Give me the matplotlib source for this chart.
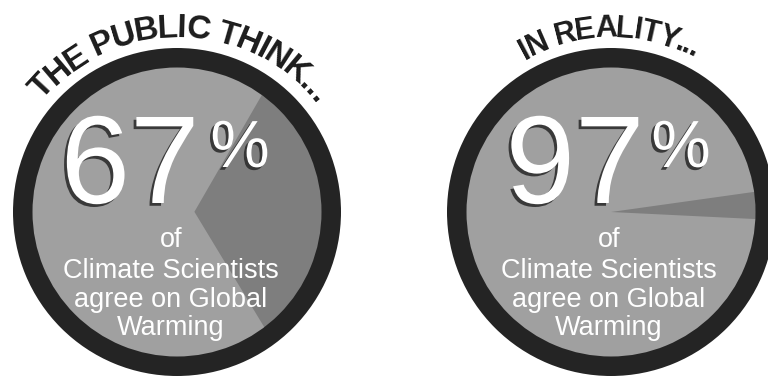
import matplotlib
matplotlib.use("Agg")
import matplotlib.pyplot as plt
import matplotlib.patheffects as pe
from matplotlib.patches import Wedge, Circle
from matplotlib.font_manager import FontProperties
import numpy as np

# data
titles = ["THE PUBLIC THINK...", "IN REALITY..."]
agree = [67, 97]
disagree = [33, 3]
caption = ["of", "Climate Scientists", "agree on Global", "Warming"]

W, H = 768, 377
fig = plt.figure(figsize=(W / 100, H / 100), dpi=100)
ax = fig.add_axes([0, 0, 1, 1])
renderer = fig.canvas.get_renderer()

LIGHT = "#a0a0a0"
DARK = "#7e7e7e"
RING = "#242424"

RADIUS = 145
centers = [(177, 165), (611, 165)]
start_angles = [60, 8]
explodes = [0.12, 0.0]  # доля радиуса
num_x = [130, 575]
pct_x = [240, 681]
title_size = [24, 22]
title_mid = [89, 90.5]
caption_x = [171, 609]


def arc_text(text, cx, cy, r, mid_deg, size, squeeze=0.92):
    """Пишет текст по дуге окружности, буква за буквой"""
    fp = FontProperties(family="Liberation Sans", weight="bold", size=size)

    def width(s):
        return renderer.get_text_width_height_descent(s, fp, ismath=False)[0]

    adv = []
    prev = width("|")
    for i in range(len(text)):
        w = width(text[:i + 1] + "|")
        adv.append((w - prev) * squeeze)
        prev = w
    s = -sum(adv) / 2
    for ch, a in zip(text, adv):
        theta = np.radians(mid_deg) - (s + a / 2) / r
        x = cx + r * np.cos(theta)
        y = cy + r * np.sin(theta)
        if ch != " ":
            ax.text(x, y, ch, fontproperties=fp, color="#1c1c1c",
                    rotation=np.degrees(theta) - 90, rotation_mode="anchor",
                    ha="center", va="baseline")
        s += a


for i in range(2):
    cx, cy = centers[i]
    # подложка, чтобы сдвинутый сектор не оставлял белую щель
    ax.add_patch(Circle((cx, cy), RADIUS + 5, facecolor=LIGHT, edgecolor="none", zorder=0.5))
    ax.pie([agree[i], disagree[i]], colors=[LIGHT, DARK], startangle=start_angles[i],
           center=(cx, cy), radius=RADIUS, explode=[0, explodes[i] * RADIUS],
           wedgeprops=dict(linewidth=0))
    ax.add_patch(Wedge((cx, cy), 164, 0, 360, width=19.5, facecolor=RING,
                       edgecolor="none", zorder=2))

    arc_text(titles[i], cx, cy, 175, title_mid[i], title_size[i])

    shadow = [pe.withSimplePatchShadow(offset=(-2, -2), shadow_rgbFace="#2e2e2e", alpha=0.9)]
    ax.text(num_x[i], 377 - 203, str(agree[i]), family="Liberation Sans", fontsize=90,
            color="white", ha="center", va="baseline", path_effects=shadow)
    ax.text(pct_x[i], 377 - 167, "%", family="Liberation Sans", fontsize=48,
            color="white", ha="center", va="baseline", path_effects=shadow)

    baselines = [130, 99, 70, 42]
    for line, yb in zip(caption, baselines):
        ax.text(caption_x[i], yb, line, family="Liberation Sans", fontsize=19.5,
                color="white", ha="center", va="baseline")

ax.set_xlim(0, W)
ax.set_ylim(0, H)
ax.set_aspect("auto")
ax.axis("off")
fig.savefig("out.png", dpi=100, facecolor="white")
